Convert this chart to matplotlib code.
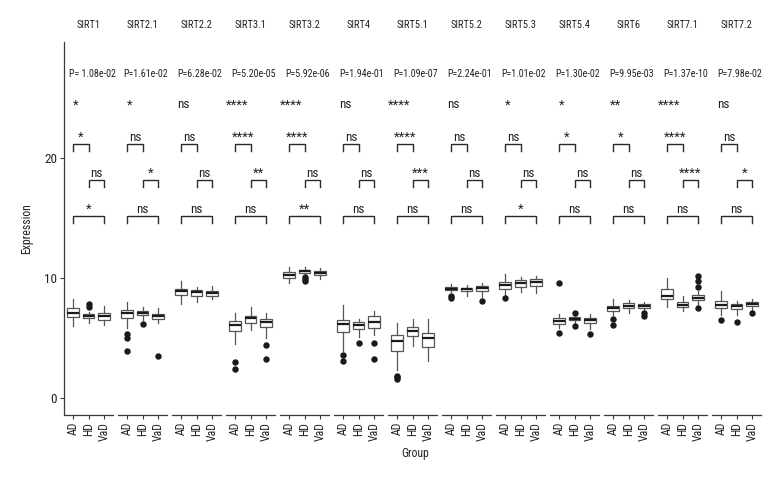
import matplotlib
matplotlib.use("Agg")
import matplotlib.pyplot as plt
import matplotlib.font_manager as fm

genes = ["SIRT1", "SIRT2.1", "SIRT2.2", "SIRT3.1", "SIRT3.2", "SIRT4", "SIRT5.1",
         "SIRT5.2", "SIRT5.3", "SIRT5.4", "SIRT6", "SIRT7.1", "SIRT7.2"]
groups = ["AD", "HD", "VaD"]

# (whisker low, q1, median, q3, whisker high)
AD_box = [(6.0, 6.75, 7.1, 7.45, 8.2), (5.85, 6.65, 7.05, 7.3, 8.0), (7.85, 8.6, 8.9, 9.1, 9.7),
          (4.5, 5.55, 6.05, 6.4, 7.05), (9.6, 10.0, 10.2, 10.45, 10.9), (3.9, 5.45, 6.15, 6.5, 7.7),
          (2.35, 3.9, 4.7, 5.2, 6.2), (8.8, 8.95, 9.1, 9.25, 9.5), (8.6, 9.1, 9.4, 9.65, 10.3),
          (5.8, 6.15, 6.4, 6.65, 6.95), (6.9, 7.25, 7.5, 7.65, 8.2), (7.55, 8.2, 8.5, 9.05, 10.0),
          (6.9, 7.45, 7.7, 8.1, 8.9)]
HD_box = [(6.25, 6.65, 6.85, 7.0, 7.15), (6.45, 6.9, 7.1, 7.2, 7.55), (8.0, 8.5, 8.8, 9.0, 9.25),
          (5.65, 6.2, 6.65, 6.85, 7.6), (10.2, 10.4, 10.55, 10.65, 10.9), (5.1, 5.7, 6.1, 6.35, 6.55),
          (4.35, 5.15, 5.55, 5.9, 6.55), (8.5, 8.9, 9.05, 9.15, 9.4), (8.8, 9.25, 9.55, 9.85, 10.1),
          (6.25, 6.45, 6.6, 6.7, 6.9), (7.1, 7.45, 7.65, 7.9, 8.15), (7.2, 7.55, 7.7, 8.0, 8.5),
          (6.9, 7.4, 7.65, 7.8, 8.1)]
VaD_box = [(6.05, 6.5, 6.8, 7.1, 7.65), (6.2, 6.6, 6.8, 7.0, 7.45), (8.2, 8.5, 8.75, 8.9, 9.3),
           (5.0, 5.9, 6.35, 6.6, 7.05), (9.9, 10.2, 10.4, 10.6, 10.85), (5.2, 5.85, 6.35, 6.8, 7.25),
           (3.05, 4.2, 4.95, 5.4, 6.55), (8.4, 8.9, 9.15, 9.3, 9.6), (8.7, 9.35, 9.65, 9.9, 10.15),
           (5.7, 6.2, 6.45, 6.65, 6.95), (7.2, 7.5, 7.65, 7.8, 8.0), (7.7, 8.15, 8.35, 8.6, 8.9),
           (7.3, 7.65, 7.85, 8.0, 8.2)]

AD_out = [[], [5.3, 5.0, 3.9], [], [2.95, 2.4], [], [3.6, 3.05], [1.85, 1.7, 1.55],
          [8.5, 8.35], [8.3], [9.6, 5.4], [6.6, 6.1], [], [6.5]]
HD_out = [[7.85, 7.6], [6.15], [], [], [10.1, 9.9, 9.7], [4.6], [], [], [], [7.1, 6.0],
          [], [], [6.35]]
VaD_out = [[], [3.5], [], [4.4, 3.2], [], [4.6, 3.2], [], [8.1], [], [5.3], [7.05, 6.85],
           [10.15, 9.7, 9.25, 7.5], [7.1]]

p_labels = ["P= 1.08e-02", "P=1.61e-02", "P=6.28e-02", "P=5.20e-05", "P=5.92e-06", "P=1.94e-01",
            "P=1.09e-07", "P=2.24e-01", "P=1.01e-02", "P=1.30e-02", "P=9.95e-03", "P=1.37e-10",
            "P=7.98e-02"]
overall_sig = ["*", "*", "ns", "****", "****", "ns", "****", "ns", "*", "*", "**", "****", "ns"]
sig_ad_hd = ["*", "ns", "ns", "****", "****", "ns", "****", "ns", "ns", "*", "*", "****", "ns"]
sig_hd_vad = ["ns", "*", "ns", "**", "ns", "ns", "***", "ns", "ns", "ns", "ns", "****", "*"]
sig_ad_vad = ["*", "ns", "ns", "ns", "**", "ns", "ns", "ns", "*", "ns", "ns", "ns", "ns"]

y_ticks = [0, 10, 20]

# ---- font choice: prefer a condensed sans ----
avail = {f.name for f in fm.fontManager.ttflist}
chosen = "DejaVu Sans"
for c in ["Roboto Condensed", "Liberation Sans Narrow", "Archivo Narrow", "Asap Condensed"]:
    if c in avail:
        chosen = c
        break
plt.rcParams["font.family"] = [chosen, "DejaVu Sans"]

fig = plt.figure(figsize=(7.8, 4.8), dpi=100)
W, H = 780.0, 480.0
x0, pitch, pw = 64.0, 54.0, 49.0
top_px, bot_px = 42.0, 415.0
ylim = (-1.44, 29.64)
line_c = "#3a3a3a"
txt_c = "#222222"

for i, g in enumerate(genes):
    ax = fig.add_axes([(x0 + i * pitch) / W, 1 - bot_px / H, pw / W, (bot_px - top_px) / H])
    boxes = [AD_box[i], HD_box[i], VaD_box[i]]
    outs = [AD_out[i], HD_out[i], VaD_out[i]]
    stats = []
    for b, o in zip(boxes, outs):
        stats.append(dict(whislo=b[0], q1=b[1], med=b[2], q3=b[3], whishi=b[4], fliers=o))
    ax.bxp(stats, positions=[1, 2, 3], widths=0.75, patch_artist=True,
           boxprops=dict(facecolor="white", edgecolor="#555555", linewidth=0.9),
           whiskerprops=dict(color="#555555", linewidth=0.9),
           capprops=dict(linewidth=0),
           medianprops=dict(color="#1a1a1a", linewidth=1.6),
           flierprops=dict(marker="o", markerfacecolor="#1a1a1a", markeredgecolor="#1a1a1a",
                           markersize=3.6, linestyle="none"))
    ax.set_xlim(0.4, 3.6)
    ax.set_ylim(*ylim)
    for s in ["top", "right"]:
        ax.spines[s].set_visible(False)
    ax.spines["bottom"].set_color(line_c)
    ax.spines["bottom"].set_linewidth(0.9)
    ax.set_xticks([1, 2, 3])
    ax.set_xticklabels(groups, rotation=90, fontsize=8.5, color=txt_c)
    ax.tick_params(axis="x", length=3, width=0.8, color=line_c, pad=2)
    if i == 0:
        ax.spines["left"].set_color(line_c)
        ax.spines["left"].set_linewidth(0.9)
        ax.set_yticks(y_ticks)
        ax.set_yticklabels([str(t) for t in y_ticks], fontsize=9.5, color=txt_c)
        ax.tick_params(axis="y", length=3, width=0.8, color=line_c, pad=2)
        ax.set_ylabel("Expression", fontsize=8.5, color=txt_c, labelpad=8)
    else:
        ax.spines["left"].set_visible(False)
        ax.set_yticks([])
    ax.set_facecolor("none")
    # strip label
    ax.text(0.5, 1 + (top_px - 25) / (bot_px - top_px), g, transform=ax.transAxes,
            ha="center", va="center", fontsize=7.5, color=txt_c)
    # global p-value
    ax.text(0.75, 27.0, p_labels[i], ha="left", va="center", fontsize=7.2, color=txt_c,
            clip_on=False)
    ax.text(1.15, 24.1, overall_sig[i], ha="center", va="baseline", fontsize=9.5, color=txt_c,
            clip_on=False)
    # brackets
    tip = 0.55
    for (a, b), yb, lab in [((1, 2), 21.1, sig_ad_hd[i]), ((2, 3), 18.1, sig_hd_vad[i]),
                            ((1, 3), 15.1, sig_ad_vad[i])]:
        ax.plot([a, a, b, b], [yb - tip, yb, yb, yb - tip], color="#2a2a2a", lw=1.0,
                clip_on=False, solid_joinstyle="miter")
        ax.text((a + b) / 2, yb + 0.3, lab, ha="center", va="baseline", fontsize=9.5,
                color=txt_c)

fig.text(415 / W, 1 - 453 / H, "Group", ha="center", va="center", fontsize=8.5, color=txt_c)
fig.savefig("out.png", dpi=100)
